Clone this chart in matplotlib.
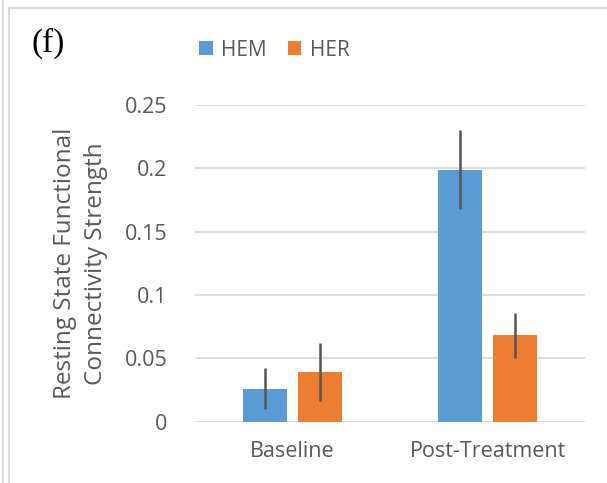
import matplotlib
matplotlib.use("Agg")
import matplotlib.pyplot as plt
from matplotlib.lines import Line2D
import numpy as np

# Data
categories = ["Baseline", "Post-Treatment"]
series_names = ["HEM", "HER"]
hem_values = [0.026, 0.199]
her_values = [0.039, 0.068]
hem_errors = [0.0165, 0.031]
her_errors = [0.023, 0.018]
y_ticks = [0, 0.05, 0.1, 0.15, 0.2, 0.25]
y_tick_labels = ["0", "0.05", "0.1", "0.15", "0.2", "0.25"]

blue = "#5B9BD5"
orange = "#ED7D31"
text_gray = "#595959"
grid_gray = "#D9D9D9"
frame_gray = "#D4D4D4"

plt.rcParams["font.family"] = ["Open Sans", "DejaVu Sans"]

fig = plt.figure(figsize=(6.07, 4.83), dpi=100)
ax = fig.add_axes([0.3213, 0.1273, 0.6425, 0.6553])

x = np.arange(len(categories))
width = 0.223
offset = 0.142

ax.bar(x - offset, hem_values, width, color=blue, label=series_names[0], zorder=3)
ax.bar(x + offset, her_values, width, color=orange, label=series_names[1], zorder=3)
ax.errorbar(x - offset, hem_values, yerr=hem_errors, fmt="none",
            ecolor="#555555", elinewidth=1.8, capsize=0, zorder=4)
ax.errorbar(x + offset, her_values, yerr=her_errors, fmt="none",
            ecolor="#555555", elinewidth=1.8, capsize=0, zorder=4)

ax.set_xlim(-0.5, 1.5)
ax.set_ylim(0, 0.25)
ax.set_yticks(y_ticks)
ax.set_yticklabels(y_tick_labels)
ax.set_xticks(x)
ax.set_xticklabels(categories)
ax.yaxis.grid(True, color=grid_gray, linewidth=1.3, zorder=0)
ax.set_axisbelow(True)
for side in ["top", "right", "left", "bottom"]:
    ax.spines[side].set_visible(False)
ax.tick_params(axis="y", length=0, colors=text_gray, labelsize=15.5, pad=20)
ax.tick_params(axis="x", length=0, colors=text_gray, labelsize=15.5, pad=14)

ax.set_ylabel("Resting State Functional\nConnectivity Strength",
              fontsize=17.5, color=text_gray, labelpad=12, linespacing=1.4)

leg = fig.legend(loc="center", bbox_to_anchor=(0.452, 0.896), ncol=2,
                 frameon=False, fontsize=15, handlelength=0.65,
                 handleheight=0.65, handletextpad=0.4, columnspacing=1.0)
for t in leg.get_texts():
    t.set_color(text_gray)

fig.text(0.052, 0.91, "(f)", fontsize=24, family="Liberation Serif",
         color="black", ha="left", va="center")

# Outer panel frame lines
fig.add_artist(Line2D([2.5 / 607, 2.5 / 607], [0, 1], transform=fig.transFigure,
                      color=frame_gray, linewidth=1.2))
fig.add_artist(Line2D([8.5 / 607, 8.5 / 607], [0, 1 - 8 / 483], transform=fig.transFigure,
                      color=frame_gray, linewidth=1.2))
fig.add_artist(Line2D([8.5 / 607, 1], [1 - 8 / 483, 1 - 8 / 483], transform=fig.transFigure,
                      color=frame_gray, linewidth=1.2))

fig.savefig("out.png", dpi=100)
